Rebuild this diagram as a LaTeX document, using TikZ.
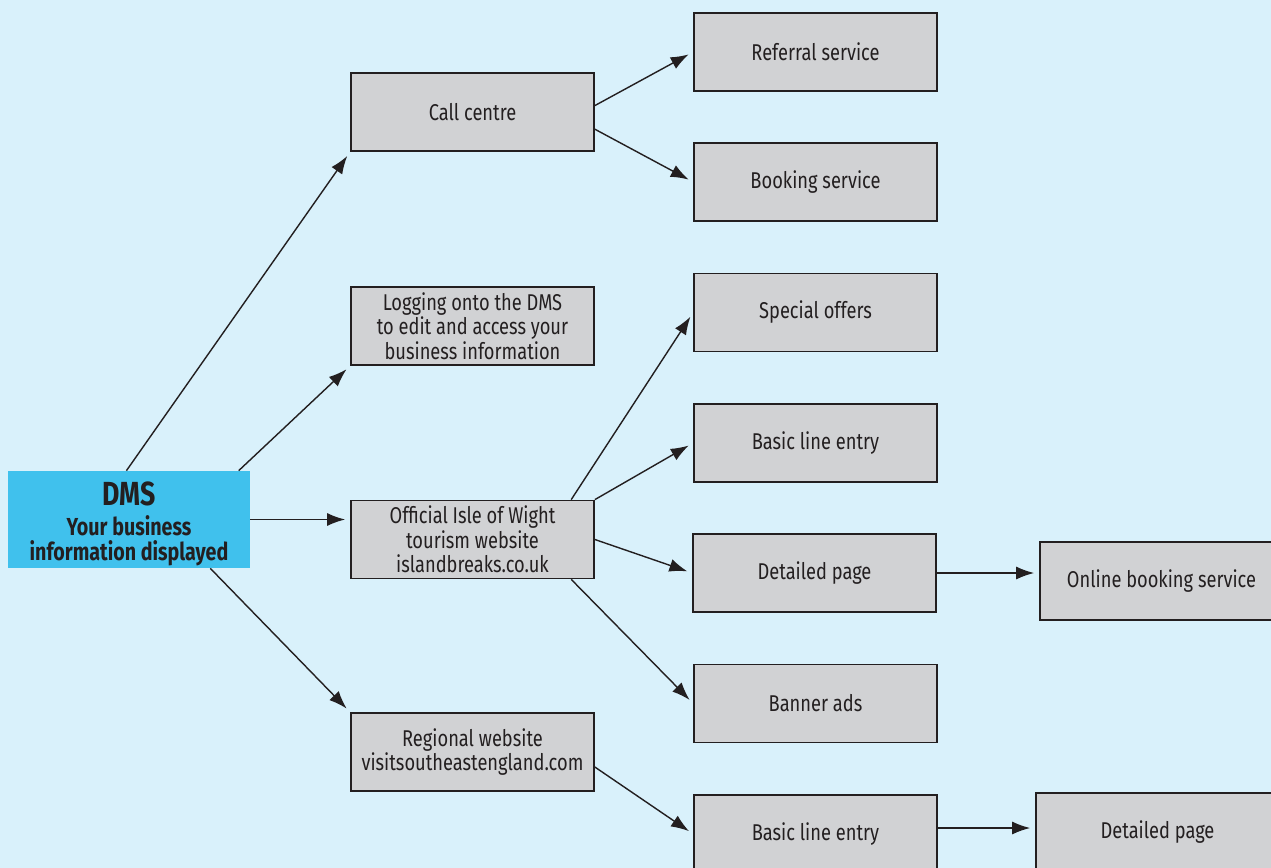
\documentclass[tikz,border=0pt]{standalone}
\usepackage{fontspec}
\setmainfont{Fira Sans}[FakeStretch=0.8]
\usepackage{xcolor}
\usepackage{tikz}
\usetikzlibrary{arrows.meta}
\definecolor{bgblue}{RGB}{217,241,251}
\definecolor{dmsblue}{RGB}{64,193,237}
\definecolor{boxgrey}{RGB}{209,210,212}
\definecolor{ink}{RGB}{35,31,32}
\tikzset{
	box/.style={draw=ink, fill=boxgrey, line width=1pt, minimum width=4.86cm, minimum height=1.56cm, inner sep=0pt, align=center, text=ink, font=\fontsize{13}{13.9}\selectfont},
	arr/.style={draw=ink, line width=0.8pt, -{Latex[length=3.6mm,width=2.6mm]}, shorten >=1mm}
}

\begin{document}
\begin{tikzpicture}[x=0.02cm, y=-0.02cm]
			\clip (0,0) rectangle (1271,868);
			\fill[bgblue] (0,0) rectangle (1271,868);

			\node[fill=dmsblue, minimum width=4.84cm, minimum height=1.94cm, inner sep=0pt, align=center, text=ink, font=\bfseries\fontsize{14}{14.2}\selectfont](dms) at (129,519.5)
			{
				\rule{0pt}{0.64cm}{\fontsize{19}{20}\selectfont DMS}\\[3pt]
				Your business\\
				information displayed
			};

			\node[box](call) at (472.5,112) {Call centre};
			\node[box](logging) at (472.5,326) {Logging onto the DMS\\to edit and access your\\business information};
			\node[box](official) at (472.5,539.5) {Official Isle of Wight\\tourism website\\islandbreaks.co.uk};
			\node[box](regional) at (472.5,752) {Regional website\\visitsoutheastengland.com};

			\node[box](referral) at (815.5,52) {Referral service};
			\node[box](booking) at (815.5,182) {Booking service};
			\node[box](special) at (815.5,312.5) {Special offers};
			\node[box](basic) at (815.5,443) {Basic line entry};
			\node[box](detailed) at (814.5,573) {Detailed page};
			\node[box](banner) at (815.5,703.5) {Banner ads};
			\node[box](basictwo) at (815.5,834) {Basic line entry};

			\node[box](online) at (1161.5,581) {Online booking service};
			\node[box](detailedtwo) at (1157.5,832) {Detailed page};

			\draw[arr] (dms.93) -- (call.south west);
			\draw[arr] (dms.24.6) -- (logging.south west);
			\draw[arr] (dms.east) -- (dms.east -| official.west);
			\draw[arr] (dms.-31) -- (regional.north west);

			\draw[arr] (call.3.3) -- (referral.west);
			\draw[arr] (call.-8.5) -- (booking.west);

			\draw[arr] (official.22) -- (special.west);
			\draw[arr] (official.north east) -- (basic.west);
			\draw[arr] (official.east) -- (detailed.west);
			\draw[arr] (official.-22) -- (banner.west);

			\draw[arr] (regional.-7.5) -- (basictwo.west);

			\draw[arr] (detailed.east) -- (detailed.east -| online.west);
			\draw[arr] ([yshift=0.12cm]basictwo.east) -- ([yshift=0.12cm]basictwo.east -| detailedtwo.west);
		\end{tikzpicture}
\end{document}
